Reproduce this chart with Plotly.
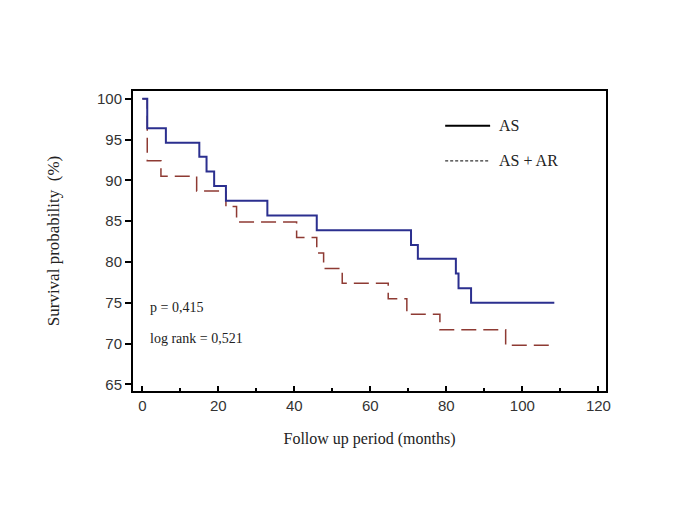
import plotly.graph_objects as go

# Kaplan-Meier step data
as_months = [0, 1.3, 6.2, 15.0, 16.9, 18.9, 22.0, 32.9, 45.9, 70.7, 72.5, 82.5, 83.2, 86.5, 108.4]
as_surv = [100, 96.4, 94.6, 92.9, 91.1, 89.3, 87.5, 85.7, 83.9, 82.1, 80.4, 78.6, 76.8, 75.0, 75.0]

asar_months = [0, 1.3, 4.9, 14.3, 22.0, 24.8, 40.6, 45.9, 47.7, 52.6, 64.7, 69.6, 78.3, 95.6, 108.4]
asar_surv = [100, 92.4, 90.5, 88.7, 86.8, 84.9, 83.0, 81.1, 79.2, 77.4, 75.5, 73.6, 71.7, 69.8, 69.8]

x_ticks = [0, 20, 40, 60, 80, 100, 120]
y_ticks = [65, 70, 75, 80, 85, 90, 95, 100]

serif = "Liberation Serif, Times New Roman, serif"
sans = "Liberation Sans, Arial, sans-serif"

fig = go.Figure()
fig.add_trace(go.Scatter(
    x=asar_months, y=asar_surv, mode="lines", line_shape="hv",
    name="AS + AR", showlegend=False,
    line=dict(color="#8e3a33", width=1.5, dash="15px,7px"),
))
fig.add_trace(go.Scatter(
    x=as_months, y=as_surv, mode="lines", line_shape="hv",
    name="AS", showlegend=False,
    line=dict(color="#2b2f8f", width=2),
))

# hand-drawn legend (as in the original figure)
fig.add_shape(type="line", xref="paper", yref="paper", x0=0.660, x1=0.755, y0=0.884, y1=0.884,
              line=dict(color="black", width=2))
fig.add_shape(type="line", xref="paper", yref="paper", x0=0.660, x1=0.755, y0=0.767, y1=0.767,
              line=dict(color="black", width=1, dash="3px,2px"))
fig.add_annotation(x=0.770, y=0.884, xref="paper", yref="paper", text="AS", showarrow=False,
                   xanchor="left", yanchor="middle", font=dict(family=serif, size=16, color="#222"))
fig.add_annotation(x=0.770, y=0.767, xref="paper", yref="paper", text="AS + AR", showarrow=False,
                   xanchor="left", yanchor="middle", font=dict(family=serif, size=16, color="#222"))

fig.add_annotation(x=1.5, y=74.4, xref="x", yref="y", text="p = 0,415", showarrow=False,
                   xanchor="left", yanchor="middle", font=dict(family=serif, size=14, color="#222"))
fig.add_annotation(x=1.5, y=70.6, xref="x", yref="y", text="log rank = 0,521", showarrow=False,
                   xanchor="left", yanchor="middle", font=dict(family=serif, size=14, color="#222"))

fig.update_layout(
    width=685, height=513,
    margin=dict(l=125, r=87, t=83, b=130),
    paper_bgcolor="white", plot_bgcolor="white",
    showlegend=False,
)
fig.update_xaxes(
    range=[-2.45, 122.0], tickvals=x_ticks, ticktext=[str(v) for v in x_ticks],
    showgrid=False, zeroline=False,
    showline=True, linecolor="black", linewidth=2, mirror=True,
    ticks="inside", ticklen=5, tickwidth=1.5, tickcolor="black",
    minor=dict(dtick=10, tick0=0, ticks="inside", ticklen=3, tickwidth=1.5, tickcolor="black"),
    tickfont=dict(family=sans, size=15, color="#333"),
    title=dict(text="Follow up period (months)", font=dict(family=serif, size=16, color="#222"), standoff=20),
)
fig.update_yaxes(
    range=[64.2, 100.95], tickvals=y_ticks, ticktext=[str(v) for v in y_ticks],
    showgrid=False, zeroline=False,
    showline=True, linecolor="black", linewidth=2, mirror=True,
    ticks="outside", ticklen=6, tickwidth=1.5, tickcolor="black",
    tickfont=dict(family=sans, size=15, color="#333"),
    title=dict(text="Survival probability  (%)", font=dict(family=serif, size=17, color="#222"), standoff=33),
)

fig.write_html("out.html")
